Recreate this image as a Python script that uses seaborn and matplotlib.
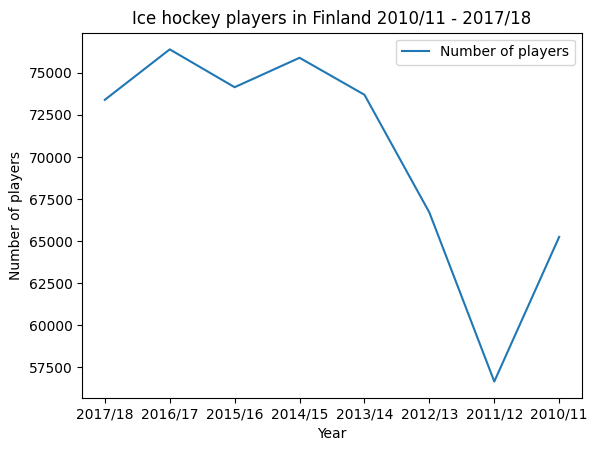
import matplotlib
matplotlib.use("Agg")
import matplotlib.pyplot as plt
import seaborn as sns
import pandas as pd

years = ["2017/18", "2016/17", "2015/16", "2014/15", "2013/14", "2012/13", "2011/12", "2010/11"]
players = [73400, 76400, 74150, 75900, 73700, 66700, 56650, 65250]

df = pd.DataFrame({"Year": years, "Number of players": players})
fig = plt.figure(figsize=(5.95, 4.55), dpi=100)
ax = fig.add_subplot(111)
fig.subplots_adjust(left=0.138, right=0.978, top=0.928, bottom=0.125)
sns.lineplot(data=df, x="Year", y="Number of players", ax=ax, label="Number of players", sort=False)
ax.set_title("Ice hockey players in Finland 2010/11 - 2017/18")
ax.legend(loc="upper right")
fig.savefig("out.png", dpi=100)
